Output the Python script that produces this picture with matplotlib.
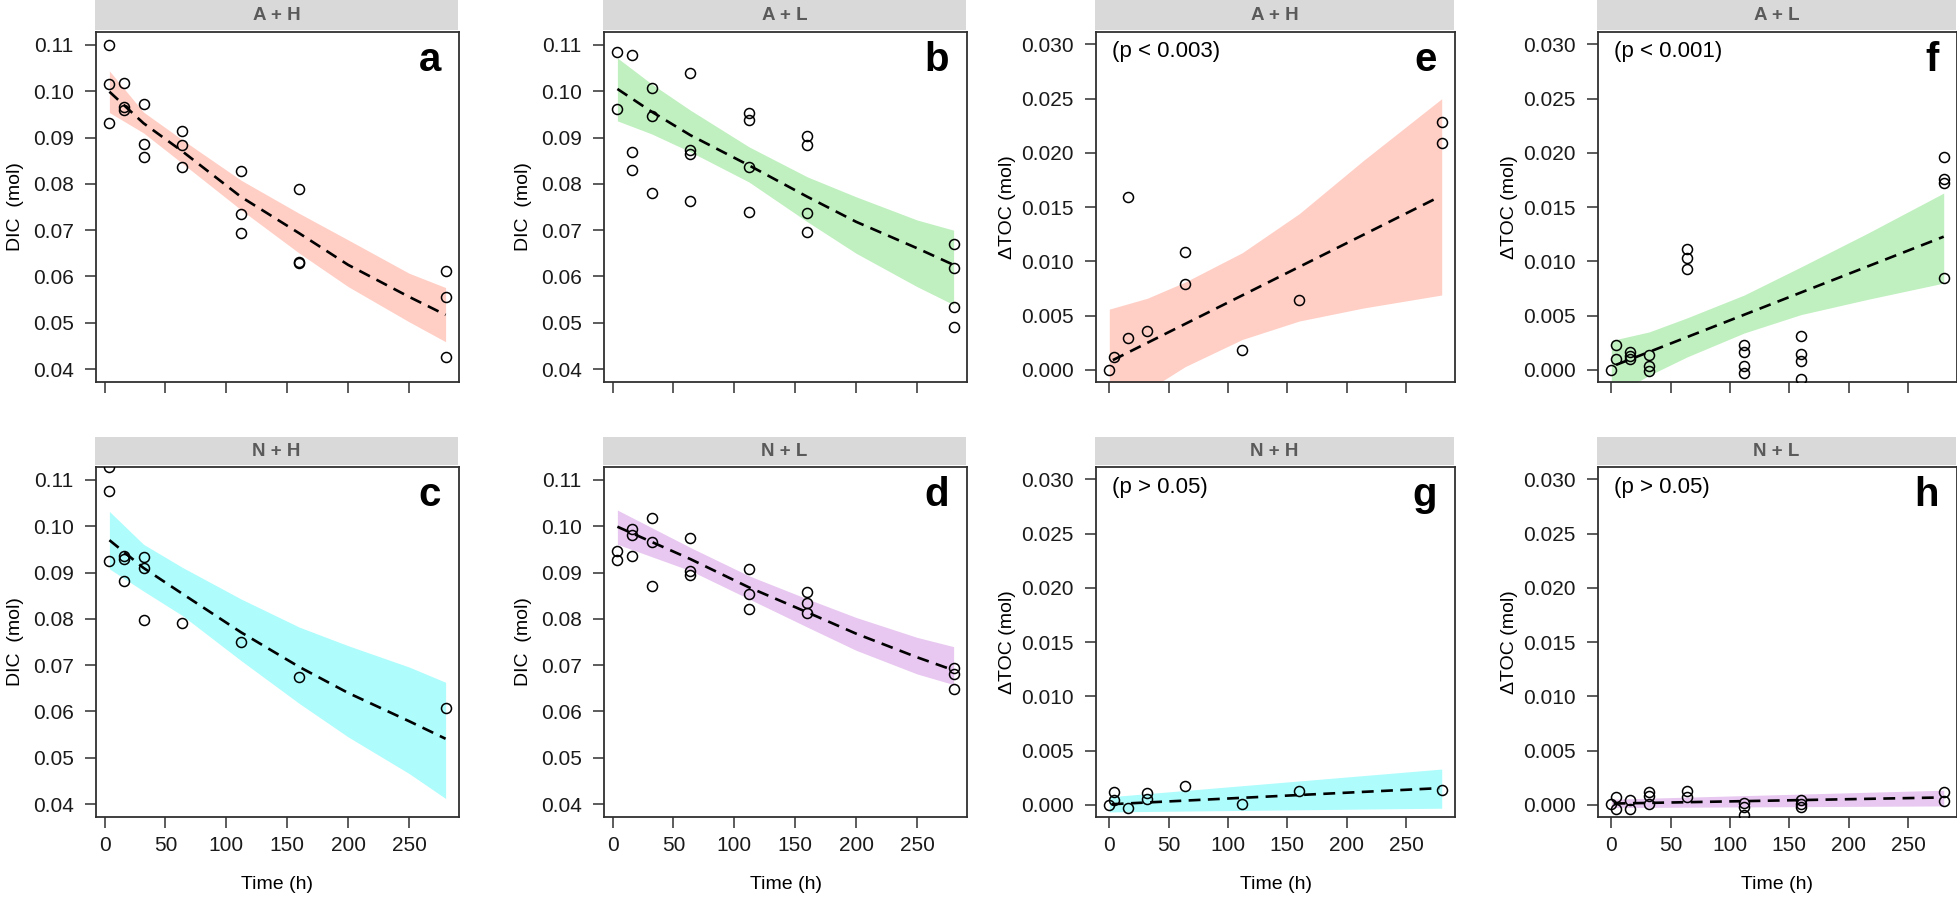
import matplotlib
matplotlib.use("Agg")
import matplotlib.pyplot as plt

plt.rcParams['font.family'] = ['Liberation Sans', 'DejaVu Sans']

W, H = 1958, 898

# ---- DIC panels (a-d) ----
t_dic_a = [4, 4, 4, 16, 16, 16, 32, 32, 32, 64, 64, 64, 112, 112, 112, 160, 160, 160, 280, 280, 280]
dic_a = [0.1099, 0.1015, 0.0931, 0.1017, 0.0965, 0.0960, 0.0973, 0.0887, 0.0859,
         0.0915, 0.0883, 0.0837, 0.0828, 0.0734, 0.0693, 0.0788, 0.0632, 0.0628,
         0.0612, 0.0556, 0.0427]
fit_t_a = [4, 32, 64, 112, 160, 200, 250, 280]
fit_a = [0.0999, 0.0931, 0.0870, 0.0772, 0.0693, 0.0625, 0.0556, 0.0517]
up_a = [0.1044, 0.0955, 0.0895, 0.0808, 0.0736, 0.0679, 0.0607, 0.0576]
lo_a = [0.0954, 0.0910, 0.0844, 0.0744, 0.0650, 0.0578, 0.0502, 0.0459]

t_dic_b = [4, 4, 16, 16, 16, 32, 32, 32, 64, 64, 64, 64, 112, 112, 112, 112,
           160, 160, 160, 160, 280, 280, 280, 280]
dic_b = [0.1084, 0.0961, 0.1078, 0.0869, 0.0830, 0.1008, 0.0947, 0.0781,
         0.1040, 0.0874, 0.0865, 0.0764, 0.0953, 0.0938, 0.0837, 0.0739,
         0.0903, 0.0885, 0.0736, 0.0697, 0.0670, 0.0618, 0.0534, 0.0491]
fit_t_b = [4, 32, 64, 112, 160, 200, 250, 280]
fit_b = [0.1005, 0.0956, 0.0905, 0.0840, 0.0772, 0.0718, 0.0661, 0.0625]
up_b = [0.1072, 0.1016, 0.0959, 0.0880, 0.0815, 0.0772, 0.0722, 0.0700]
lo_b = [0.0936, 0.0908, 0.0869, 0.0804, 0.0718, 0.0650, 0.0578, 0.0539]

t_dic_c = [4, 4, 4, 16, 16, 16, 32, 32, 32, 64, 112, 160, 280]
dic_c = [0.1128, 0.1076, 0.0926, 0.0936, 0.0929, 0.0882, 0.0933, 0.0910, 0.0797,
         0.0792, 0.0750, 0.0674, 0.0608]
fit_t_c = [4, 32, 64, 112, 160, 200, 250, 280]
fit_c = [0.0970, 0.0910, 0.0854, 0.0771, 0.0696, 0.0640, 0.0579, 0.0541]
up_c = [0.1032, 0.0961, 0.0911, 0.0843, 0.0782, 0.0742, 0.0696, 0.0663]
lo_c = [0.0908, 0.0860, 0.0807, 0.0710, 0.0617, 0.0545, 0.0466, 0.0412]

t_dic_d = [4, 4, 16, 16, 16, 32, 32, 32, 64, 64, 64, 112, 112, 112, 160, 160, 160, 280, 280, 280]
dic_d = [0.0946, 0.0928, 0.0994, 0.0982, 0.0935, 0.1017, 0.0965, 0.0870,
         0.0974, 0.0904, 0.0895, 0.0907, 0.0854, 0.0821, 0.0857, 0.0834, 0.0813,
         0.0694, 0.0680, 0.0649]
fit_t_d = [4, 64, 112, 160, 200, 250, 280]
fit_d = [0.0999, 0.0929, 0.0868, 0.0814, 0.0768, 0.0717, 0.0689]
up_d = [0.1035, 0.0954, 0.0893, 0.0843, 0.0803, 0.0760, 0.0740]
lo_d = [0.0961, 0.0904, 0.0843, 0.0782, 0.0732, 0.0681, 0.0658]

# ---- delta TOC panels (e-h) ----
t_toc_e = [0, 4, 16, 16, 32, 64, 64, 112, 160, 280, 280]
toc_e = [0.0000, 0.00117, 0.00298, 0.01597, 0.00356, 0.01087, 0.00789, 0.00184, 0.00642, 0.02281, 0.02094]
fit_t_e = [3, 277]
fit_e = [0.0009, 0.0159]
band_t_e = [0, 32, 64, 112, 160, 214, 280]
up_e = [0.0056, 0.0066, 0.0081, 0.0108, 0.0144, 0.0193, 0.0250]
lo_e = [-0.0045, -0.0019, 0.0003, 0.0028, 0.0045, 0.0057, 0.0069]

t_toc_f = [0, 4, 4, 16, 16, 16, 32, 32, 32, 64, 64, 64, 112, 112, 112, 112,
           160, 160, 160, 160, 280, 280, 280, 280]
toc_f = [0.0, 0.0023, 0.00098, 0.0016, 0.0013, 0.00104, 0.00138, 0.00031, -0.0001,
         0.01112, 0.01029, 0.00933, 0.0023, 0.00169, 0.00031, -0.00025,
         0.00316, 0.00144, 0.00083, -0.00086, 0.0196, 0.0176, 0.01726, 0.00844]
fit_t_f = [4, 280]
fit_f = [0.00046, 0.01228]
band_t_f = [0, 32, 64, 112, 160, 216, 280]
up_f = [0.0027, 0.0035, 0.0048, 0.0069, 0.0095, 0.0126, 0.0163]
lo_f = [-0.0025, -0.0005, 0.0012, 0.0034, 0.0051, 0.0065, 0.0080]

t_toc_g = [0, 4, 4, 16, 32, 32, 64, 112, 160, 280]
toc_g = [0.0, 0.00114, 0.00043, -0.0003, 0.00108, 0.00052, 0.00175, 0.0001, 0.00129, 0.00135]
fit_t_g = [2, 278]
fit_g = [0.00006, 0.00154]
band_t_g = [0, 280]
up_g = [0.00074, 0.0033]
lo_g = [-0.00065, -0.00031]

t_toc_h = [0, 4, 4, 16, 16, 32, 32, 32, 64, 64, 112, 112, 112, 160, 160, 160, 280, 280]
toc_h = [0.00006, 0.00077, -0.00034, 0.00043, -0.00034, 0.0012, 0.00083, 0.00006,
         0.00129, 0.00068, 0.00015, -0.00018, -0.00092, 0.00043, 0.00012, -0.00018,
         0.00114, 0.00037]
fit_t_h = [2, 278]
fit_h = [0.00012, 0.00068]
band_t_h = [0, 280]
up_h = [0.00052, 0.00135]
lo_h = [-0.00025, -0.0001]

dic_ticks = [0.04, 0.05, 0.06, 0.07, 0.08, 0.09, 0.10, 0.11]
toc_ticks = [0.000, 0.005, 0.010, 0.015, 0.020, 0.025, 0.030]
time_ticks = [0, 50, 100, 150, 200, 250]

col_pink = '#ffcfc6'
col_green = '#c0f0c0'
col_cyan = '#aefcfc'
col_purple = '#e8c8f0'

# panel: letter, strip, x-range px, row, data...
panels = [
    ('a', 'A + H', (96, 459), 0, 'dic', t_dic_a, dic_a, fit_t_a, fit_a, fit_t_a, up_a, lo_a, col_pink, None),
    ('b', 'A + L', (604, 967), 0, 'dic', t_dic_b, dic_b, fit_t_b, fit_b, fit_t_b, up_b, lo_b, col_green, None),
    ('e', 'A + H', (1096, 1455), 0, 'toc', t_toc_e, toc_e, fit_t_e, fit_e, band_t_e, up_e, lo_e, col_pink, '(p < 0.003)'),
    ('f', 'A + L', (1598, 1957), 0, 'toc', t_toc_f, toc_f, fit_t_f, fit_f, band_t_f, up_f, lo_f, col_green, '(p < 0.001)'),
    ('c', 'N + H', (96, 459), 1, 'dic', t_dic_c, dic_c, fit_t_c, fit_c, fit_t_c, up_c, lo_c, col_cyan, None),
    ('d', 'N + L', (604, 967), 1, 'dic', t_dic_d, dic_d, fit_t_d, fit_d, fit_t_d, up_d, lo_d, col_purple, None),
    ('g', 'N + H', (1096, 1455), 1, 'toc', t_toc_g, toc_g, fit_t_g, fit_g, band_t_g, up_g, lo_g, col_cyan, '(p > 0.05)'),
    ('h', 'N + L', (1598, 1957), 1, 'toc', t_toc_h, toc_h, fit_t_h, fit_h, band_t_h, up_h, lo_h, col_purple, '(p > 0.05)'),
]

rows = [(32, 382, 0, 30), (467, 817, 437, 465)]  # axes top, bottom, strip top, strip bottom


def frac(x0, x1, ytop, ybot):
    return [x0 / W, 1 - ybot / H, (x1 - x0) / W, (ybot - ytop) / H]


fig = plt.figure(figsize=(W / 100, H / 100), dpi=100)
edge = '#303030'

for (letter, strip, (x0, x1), row, kind, tx, vy, ft, fv, bt, up, lo, col, ptxt) in panels:
    ytop, ybot, stop, sbot = rows[row]

    # strip
    sax = fig.add_axes(frac(x0 - 1, x1 - 1, stop, sbot))
    sax.set_facecolor('#d9d9d9')
    sax.set_xticks([])
    sax.set_yticks([])
    for s in sax.spines.values():
        s.set_visible(False)
    sax.text(0.5, 0.5, strip, ha='center', va='center', fontsize=13.5,
             fontweight='bold', color='#5a5a5a', transform=sax.transAxes)

    ax = fig.add_axes(frac(x0, x1, ytop, ybot))
    ax.fill_between(bt, lo, up, color=col, lw=0, zorder=1)
    ax.plot(ft, fv, color='black', lw=1.9, linestyle=(0, (4.5, 2.8)), zorder=2)
    ax.plot(tx, vy, 'o', ms=7.2, mfc='none', mec='black', mew=1.1, zorder=3)

    if kind == 'dic':
        ax.set_xlim(-7, 291)
        ax.set_ylim(0.0372, 0.1128)
        ax.set_yticks(dic_ticks)
        ax.set_yticklabels([f'{v:.2f}' for v in dic_ticks])
        ax.set_ylabel('DIC  (mol)', fontsize=14)
        ax.yaxis.set_label_coords(-72 / (x1 - x0), 0.5)
    else:
        ax.set_xlim(-11.2, 291.2)
        ax.set_ylim(-0.00112, 0.03115)
        ax.set_yticks(toc_ticks)
        ax.set_yticklabels([f'{v:.3f}' for v in toc_ticks])
        ax.set_ylabel('\u0394TOC (mol)', fontsize=14)
        ax.yaxis.set_label_coords(-80 / (x1 - x0), 0.5)

    ax.set_xticks(time_ticks)
    if row == 1:
        ax.set_xticklabels([str(v) for v in time_ticks])
        ax.text(0.5, -0.194, 'Time (h)', transform=ax.transAxes,
                ha='center', va='center', fontsize=14)
    else:
        ax.set_xticklabels([])

    ax.tick_params(axis='both', direction='out', length=8, width=1.1,
                   color=edge, labelsize=15, labelcolor='#1a1a1a')
    ax.tick_params(axis='y', pad=8)
    ax.tick_params(axis='x', pad=6)
    for s in ax.spines.values():
        s.set_color(edge)
        s.set_linewidth(1.3)

    ax.text(0.95, 1 - 39 / 350, letter, transform=ax.transAxes, ha='right',
            va='baseline', fontsize=29, fontweight='bold')
    if ptxt:
        ax.text(0.044, 1 - 20 / 350, ptxt, transform=ax.transAxes, ha='left',
                va='center', fontsize=16)

fig.savefig('out.png', dpi=100)
